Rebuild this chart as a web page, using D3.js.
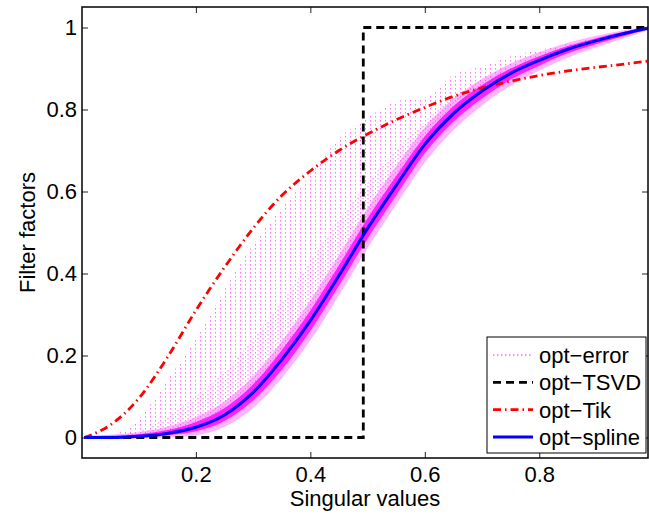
<!DOCTYPE html>
<html>
<head>
<meta charset="utf-8">
<script src="https://cdn.jsdelivr.net/npm/d3@7"></script>
<style>
  body { margin: 0; background: #fff; }
  text { font-family: "Liberation Sans", Arial, sans-serif; }
</style>
</head>
<body>
<div id="chart"></div>
<script>
// ---- data ----
const sv       = [0.005,0.05,0.1,0.15,0.2,0.25,0.3,0.35,0.4,0.45,0.5,0.55,0.6,0.65,0.7,0.75,0.8,0.85,0.9,0.95,0.99];
const spline   = [0,0,0.003,0.01,0.025,0.055,0.11,0.19,0.285,0.395,0.51,0.615,0.715,0.79,0.845,0.888,0.92,0.947,0.968,0.986,0.998];
const tik      = [0,0.03,0.095,0.195,0.31,0.415,0.51,0.59,0.65,0.7,0.74,0.775,0.805,0.832,0.853,0.869,0.883,0.894,0.903,0.911,0.918];
// opt-error cloud: sparse upper envelope, denser middle zone, dense core round the spline
const errHigh  = [0,0.005,0.045,0.14,0.24,0.36,0.47,0.56,0.64,0.73,0.78,0.82,0.83,0.885,0.905,0.93,0.945,0.96,0.975,0.99,1.0];
const errMid   = [0,0.002,0.015,0.05,0.1,0.16,0.24,0.33,0.43,0.53,0.62,0.7,0.77,0.83,0.87,0.9,0.93,0.955,0.972,0.988,0.999];
const haloLow  = [0,-0.004,-0.003,0,0.005,0.026,0.072,0.145,0.237,0.347,0.462,0.568,0.671,0.75,0.81,0.858,0.895,0.927,0.952,0.975,0.993];
const haloHigh = [0.005,0.007,0.013,0.026,0.05,0.088,0.15,0.235,0.335,0.445,0.56,0.662,0.757,0.826,0.875,0.912,0.94,0.963,0.98,0.994,1.002];
const coreLow  = [0,-0.002,0,0.005,0.015,0.04,0.09,0.165,0.26,0.37,0.485,0.59,0.693,0.77,0.827,0.873,0.907,0.937,0.96,0.98,0.995];
const coreHigh = [0.003,0.004,0.008,0.018,0.038,0.072,0.13,0.213,0.31,0.42,0.535,0.638,0.735,0.808,0.86,0.9,0.93,0.955,0.974,0.99,1.0];
const tsvdX    = [0.005,0.4925,0.4925,0.99];
const tsvdY    = [0,0,1,1];
const xTicks   = [0.2,0.4,0.6,0.8];
const yTicks   = [0,0.2,0.4,0.6,0.8,1];
const legendLabels = ["opt\u2212error","opt\u2212TSVD","opt\u2212Tik","opt\u2212spline"];

// ---- setup ----
const width = 649, height = 515;
const L = 82, R = 648, T = 7, B = 458;

const svg = d3.select('#chart').append('svg')
  .attr('width', width).attr('height', height);

const x = d3.scaleLinear().domain([0.001, 0.99]).range([L, R]);
const y = d3.scaleLinear().domain([-0.05, 1.05]).range([B, T]);

const defs = svg.append('defs');
defs.append('clipPath').attr('id', 'clip')
  .append('rect').attr('x', L).attr('y', T).attr('width', R - L).attr('height', B - T);

// dotted vertical stripes for the error cloud
const pSparse = defs.append('pattern').attr('id', 'sparse')
  .attr('patternUnits', 'userSpaceOnUse').attr('width', 5).attr('height', 4);
pSparse.append('rect').attr('x', 0).attr('y', 0).attr('width', 1).attr('height', 1.5).attr('fill', '#ff33ff');
const pMid = defs.append('pattern').attr('id', 'mid')
  .attr('patternUnits', 'userSpaceOnUse').attr('width', 5).attr('height', 4);
pMid.append('rect').attr('x', 2.5).attr('y', 2).attr('width', 1).attr('height', 1.5).attr('fill', '#ff33ff');

const plot = svg.append('g').attr('clip-path', 'url(#clip)');

const band = (lo, hi) => d3.area()
  .x((d, i) => x(sv[i]))
  .y0((d, i) => y(lo[i]))
  .y1((d, i) => y(hi[i]))
  .curve(d3.curveMonotoneX)(sv);

plot.append('path').attr('d', band(spline, errHigh)).attr('fill', 'url(#sparse)').attr('opacity', 0.7);
plot.append('path').attr('d', band(spline, errMid)).attr('fill', 'url(#mid)').attr('opacity', 0.7);
plot.append('path').attr('d', band(haloLow, haloHigh)).attr('fill', '#ff55ff').attr('opacity', 0.45);
plot.append('path').attr('d', band(coreLow, coreHigh)).attr('fill', '#ff11ff').attr('opacity', 0.9);

const line = vals => d3.line()
  .x((d, i) => x(sv[i]))
  .y((d, i) => y(vals[i]))
  .curve(d3.curveMonotoneX)(sv);

// opt-TSVD
plot.append('path')
  .attr('d', d3.line().x((d, i) => x(tsvdX[i])).y((d, i) => y(tsvdY[i]))(tsvdX))
  .attr('fill', 'none').attr('stroke', '#000').attr('stroke-width', 2.8)
  .attr('stroke-dasharray', '8,5');

// opt-Tik
plot.append('path').attr('d', line(tik))
  .attr('fill', 'none').attr('stroke', '#ff0000').attr('stroke-width', 2.8)
  .attr('stroke-dasharray', '8,4,1.5,4');

// opt-spline
plot.append('path').attr('d', line(spline))
  .attr('fill', 'none').attr('stroke', '#0000ff').attr('stroke-width', 3);

// ---- axes (inward ticks, boxed) ----
const fmt = d => String(d);
svg.append('g').attr('transform', `translate(0,${B})`)
  .call(d3.axisBottom(x).tickValues(xTicks).tickFormat(fmt).tickSizeInner(-6).tickSizeOuter(0).tickPadding(8));
svg.append('g').attr('transform', `translate(0,${T})`)
  .call(d3.axisTop(x).tickValues(xTicks).tickFormat('').tickSizeInner(-6).tickSizeOuter(0));
svg.append('g').attr('transform', `translate(${L},0)`)
  .call(d3.axisLeft(y).tickValues(yTicks).tickFormat(fmt).tickSizeInner(-6).tickSizeOuter(0).tickPadding(5));
svg.append('g').attr('transform', `translate(${R},0)`)
  .call(d3.axisRight(y).tickValues(yTicks).tickFormat('').tickSizeInner(-6).tickSizeOuter(0));

svg.selectAll('.domain').remove();
svg.selectAll('.tick line').attr('stroke', '#222').attr('stroke-width', 1);
svg.selectAll('.tick text').attr('font-size', 22).attr('fill', '#000')
  .attr('font-family', '"Liberation Sans", Arial, sans-serif');

svg.append('rect').attr('x', L).attr('y', T).attr('width', R - L).attr('height', B - T)
  .attr('fill', 'none').attr('stroke', '#000').attr('stroke-width', 1.5);

svg.append('text').attr('x', (L + R) / 2).attr('y', 506)
  .attr('text-anchor', 'middle').attr('font-size', 22).text('Singular values');
svg.append('text').attr('transform', `translate(35,${(T + B) / 2}) rotate(-90)`)
  .attr('text-anchor', 'middle').attr('font-size', 22).text('Filter factors');

// ---- legend ----
const lg = svg.append('g');
lg.append('rect').attr('x', 487).attr('y', 337).attr('width', 159).attr('height', 116)
  .attr('fill', '#fff').attr('stroke', '#000').attr('stroke-width', 1);
const styles = [
  { stroke: '#ff66ff', w: 1.5, dash: '1.5,2.5' },
  { stroke: '#000', w: 2.8, dash: '8,5' },
  { stroke: '#ff0000', w: 2.8, dash: '8,4,1.5,4' },
  { stroke: '#0000ff', w: 3, dash: null }
];
legendLabels.forEach((lab, i) => {
  const yy = 355 + i * 27.3;
  lg.append('line').attr('x1', 493).attr('x2', 533).attr('y1', yy).attr('y2', yy)
    .attr('stroke', styles[i].stroke).attr('stroke-width', styles[i].w)
    .attr('stroke-dasharray', styles[i].dash);
  lg.append('text').attr('x', 539).attr('y', yy).attr('dy', '0.36em')
    .attr('font-size', 22).text(lab);
});
</script>
</body>
</html>
